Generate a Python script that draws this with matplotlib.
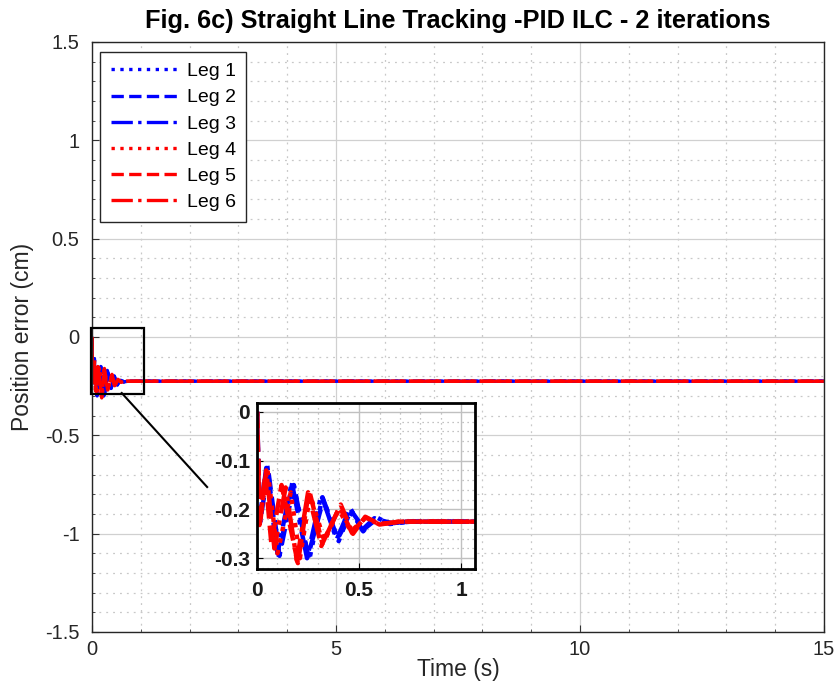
import matplotlib
matplotlib.use("Agg")
import matplotlib.pyplot as plt
from matplotlib.ticker import MultipleLocator
from matplotlib.patches import Rectangle
from matplotlib.lines import Line2D

plt.rcParams['font.family'] = ['Liberation Sans', 'DejaVu Sans']

# ---- data ----
leg_names = ["Leg 1", "Leg 2", "Leg 3", "Leg 4", "Leg 5", "Leg 6"]
leg_colors = ["blue", "blue", "blue", "red", "red", "red"]
leg_styles = [":", "--", "-.", ":", "--", "-."]

t_leg1 = [0, 0.012, 0.05, 0.105, 0.175, 0.255, 0.32, 0.40, 0.46, 0.52, 0.58, 0.65, 0.75, 15]
v_leg1 = [0, -0.235, -0.11, -0.30, -0.14, -0.305, -0.175, -0.265, -0.20, -0.245, -0.215, -0.23, -0.225, -0.225]

t_leg2 = [0, 0.015, 0.055, 0.11, 0.18, 0.25, 0.325, 0.395, 0.465, 0.525, 0.585, 0.66, 0.76, 15]
v_leg2 = [0, -0.225, -0.12, -0.295, -0.15, -0.295, -0.18, -0.26, -0.205, -0.24, -0.22, -0.228, -0.225, -0.225]

t_leg3 = [0, 0.01, 0.045, 0.10, 0.17, 0.245, 0.315, 0.39, 0.455, 0.515, 0.575, 0.64, 0.74, 15]
v_leg3 = [0, -0.23, -0.115, -0.29, -0.145, -0.30, -0.17, -0.262, -0.198, -0.242, -0.218, -0.229, -0.225, -0.225]

t_leg4 = [0, 0.01, 0.05, 0.10, 0.165, 0.21, 0.26, 0.33, 0.40, 0.46, 0.53, 0.60, 0.70, 15]
v_leg4 = [0, -0.235, -0.115, -0.29, -0.165, -0.30, -0.17, -0.265, -0.20, -0.245, -0.218, -0.23, -0.225, -0.225]

t_leg5 = [0, 0.015, 0.04, 0.07, 0.12, 0.20, 0.255, 0.32, 0.41, 0.47, 0.53, 0.60, 0.70, 15]
v_leg5 = [0, -0.23, -0.13, -0.27, -0.15, -0.31, -0.16, -0.27, -0.19, -0.25, -0.215, -0.23, -0.225, -0.225]

t_leg6 = [0, 0.012, 0.045, 0.085, 0.14, 0.195, 0.25, 0.315, 0.405, 0.465, 0.53, 0.60, 0.70, 15]
v_leg6 = [0, -0.232, -0.12, -0.28, -0.155, -0.305, -0.165, -0.275, -0.195, -0.248, -0.216, -0.231, -0.225, -0.225]

legs_t = [t_leg1, t_leg2, t_leg3, t_leg4, t_leg5, t_leg6]
legs_v = [v_leg1, v_leg2, v_leg3, v_leg4, v_leg5, v_leg6]

title = "Fig. 6c) Straight Line Tracking -PID ILC - 2 iterations"
main_yticks = [-1.5, -1, -0.5, 0, 0.5, 1, 1.5]
main_yticklabels = ["-1.5", "-1", "-0.5", "0", "0.5", "1", "1.5"]
inset_xticks = [0, 0.5, 1]
inset_xticklabels = ["0", "0.5", "1"]
inset_yticks = [0, -0.1, -0.2, -0.3]
inset_yticklabels = ["0", "-0.1", "-0.2", "-0.3"]

txt = '#262626'
fig = plt.figure(figsize=(8.4, 6.96), dpi=100)
ax = fig.add_axes([0.1095, 0.092, 0.8714, 0.8477])

for t, v, c, s, n in zip(legs_t, legs_v, leg_colors, leg_styles, leg_names):
    ax.plot(t, v, color=c, linestyle=s, linewidth=2.4, label=n)

ax.set_xlim(0, 15)
ax.set_ylim(-1.5, 1.5)
ax.xaxis.set_major_locator(MultipleLocator(5))
ax.xaxis.set_minor_locator(MultipleLocator(1))
ax.yaxis.set_minor_locator(MultipleLocator(0.1))
ax.set_yticks(main_yticks)
ax.set_yticklabels(main_yticklabels)
ax.grid(which='major', color='#d0d0d0', linestyle='-', linewidth=0.9)
ax.grid(which='minor', color='#c8c8c8', linestyle=(0, (1.5, 4)), linewidth=0.9)
ax.set_axisbelow(True)
ax.tick_params(which='both', direction='in', labelsize=14.5, color='#333333',
               labelcolor=txt)
ax.tick_params(which='major', length=5)
ax.tick_params(axis='y', which='major', pad=9)
ax.tick_params(axis='x', which='major', pad=6)
ax.tick_params(which='minor', length=2.5)
for sp in ax.spines.values():
    sp.set_color('#262626')
    sp.set_linewidth(1.0)
ax.set_xlabel("Time (s)", fontsize=16.5, color=txt, labelpad=-1)
ax.set_ylabel("Position error (cm)", fontsize=16.5, color=txt, labelpad=8)
ax.set_title(title, fontsize=18.3, fontweight='bold', pad=10)

leg = ax.legend(loc='upper left', bbox_to_anchor=(0.011, 0.983), fontsize=14,
                handlelength=3.5, handletextpad=0.4, labelspacing=0.44,
                borderpad=0.55, borderaxespad=0, fancybox=False,
                edgecolor='#262626', framealpha=1)
leg.get_frame().set_linewidth(1.0)

# zoom rectangle and connector
ax.add_patch(Rectangle((-0.03, -0.29), 1.1, 0.335, fill=False, edgecolor='black',
                       linewidth=1.6, zorder=5, clip_on=False))
ax.add_line(Line2D([0.61, 2.36], [-0.285, -0.763], color='black', linewidth=1.5, zorder=5))

# inset
axi = fig.add_axes([0.306, 0.1825, 0.2595, 0.2385])
for t, v, c, s in zip(legs_t, legs_v, leg_colors, leg_styles):
    axi.plot(t, v, color=c, linestyle=s, linewidth=3.2)
axi.set_xlim(0, 1.068)
axi.set_ylim(-0.322, 0.018)
axi.xaxis.set_minor_locator(MultipleLocator(0.1))
axi.yaxis.set_minor_locator(MultipleLocator(0.02))
axi.set_xticks(inset_xticks)
axi.set_xticklabels(inset_xticklabels)
axi.set_yticks(inset_yticks)
axi.set_yticklabels(inset_yticklabels)
axi.grid(which='major', color='#c0c0c0', linestyle='-', linewidth=1.0)
axi.grid(which='minor', color='#b0b0b0', linestyle=(0, (1, 3)), linewidth=0.9)
axi.set_axisbelow(True)
axi.tick_params(which='both', direction='in', labelsize=15, color='black', labelcolor='#1a1a1a')
axi.tick_params(which='major', length=4)
axi.tick_params(axis='x', which='major', pad=9)
axi.tick_params(axis='y', which='major', pad=5)
axi.tick_params(which='minor', length=0)
for lab in axi.get_xticklabels() + axi.get_yticklabels():
    lab.set_fontweight('bold')
for sp in axi.spines.values():
    sp.set_color('black')
    sp.set_linewidth(2.0)

fig.savefig("out.png", dpi=100)
